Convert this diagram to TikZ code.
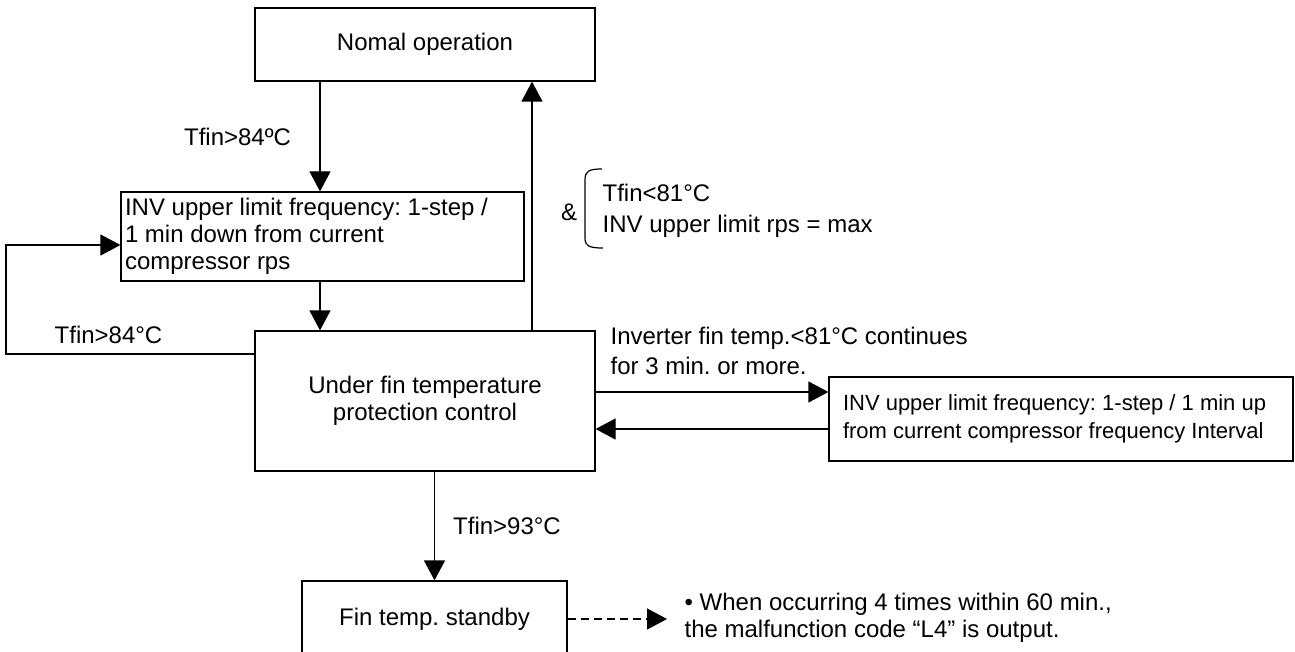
\documentclass[tikz,border=0pt]{standalone}
\usepackage{fontspec}
\setmainfont{Liberation Sans}
\usetikzlibrary{arrows.meta}
\frenchspacing
\begin{document}
\begin{tikzpicture}[x=0.5pt,y=-0.5pt, line width=0.6pt,
  box/.style={draw, line width=0.6pt, inner sep=0pt, font=\fontsize{12pt}{13.5pt}\selectfont, align=center},
  lbl/.style={inner sep=0pt, font=\fontsize{12pt}{15pt}\selectfont, align=left},
  arr/.style={-{Triangle[length=10pt,width=10.5pt]}}]
\useasboundingbox (0,0) rectangle (1295,652);
\clip (0,0) rectangle (1295,652);
% boxes
\node[box, minimum width=170pt, minimum height=36.5pt] (nomal) at (425,44.5) {Nomal operation};
\node[box, minimum width=201.5pt, minimum height=44.5pt, text width=197.5pt, inner xsep=2pt, align=flush left] (down) at (322.5,236.5) {INV upper limit frequency: 1-step /\\1 min down from current\\compressor rps};
\node[box, minimum width=170pt, minimum height=70pt] (under) at (425,401) {Under fin temperature\\protection control};
\node[box, minimum width=232pt, minimum height=42pt, text width=218pt, inner xsep=7pt, align=flush left, font=\fontsize{11pt}{14pt}\selectfont] (up) at (1061,419) {INV upper limit frequency: 1-step / 1 min up\\from current compressor frequency Interval};
\node[box, minimum width=132.5pt, minimum height=38pt] (fin) at (434.5,619) {Fin temp. standby};
% labels
\node[lbl] (l84a) at (237.5,137) {Tfin>84ºC};
\node[lbl] (l84b) at (108.5,335) {Tfin>84°C};
\node[lbl] (amp) at (569,212) {\&};
\node[lbl, anchor=west, font=\fontsize{12pt}{15.5pt}\selectfont] (cond) at (602,210.5) {Tfin<81°C\\INV upper limit rps = max};
\node[lbl, anchor=west] (inv) at (610,351) {Inverter fin temp.<81°C continues\\for 3 min. or more.};
\node[lbl] (l93) at (507,526) {Tfin>93°C};
\node[lbl, anchor=west, font=\fontsize{12pt}{13.5pt}\selectfont] (note) at (684,617.5) {• When occurring 4 times within 60 min.,\\the malfunction code “L4” is output.};
% helper coordinates
\coordinate (xa) at (320,0);
\coordinate (xb) at (532,0);
\coordinate (lb) at (6,354);
\coordinate (lt) at (6,245);
\coordinate (ya) at (0,392);
\coordinate (yb) at (0,429);
\coordinate (dend) at (667,619);
% connectors
\draw[arr] (xa |- nomal.south) -- (xa |- down.north);
\draw[arr] (xa |- down.south) -- (xa |- under.north);
\draw[arr] (xb |- under.north) -- (xb |- nomal.south);
\draw[arr] (under.west |- lb) -- (lb) -- (lt) -- (down.west |- lt);
\draw[arr] (under.east |- ya) -- (up.west |- ya);
\draw[arr] (up.west |- yb) -- (under.east |- yb);
\draw[arr] (fin.north |- under.south) -- (fin.north);
\draw[arr, dash pattern=on 4pt off 2.5pt] (fin.east) -- (dend);
% bracket
\draw (602,169) .. controls (589,169) and (585,171) .. (585,180) -- (585,238) .. controls (585,246) and (589,248) .. (603,248);
\end{tikzpicture}
\end{document}
